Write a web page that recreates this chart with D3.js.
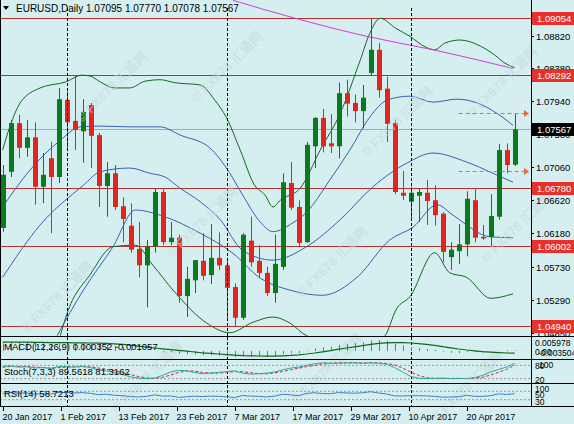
<!DOCTYPE html>
<html>
<head>
<meta charset="utf-8">
<script src="https://cdn.jsdelivr.net/npm/d3@7"></script>
<style>
  body { margin: 0; background: #d5eff1; }
  svg { display: block; font-family: "Liberation Sans", Arial, sans-serif; }
</style>
</head>
<body>
<div id="chart"></div>
<script>
// daily candles, 20 Jan 2017 .. 20 Apr 2017
const opens  = [1.0625,1.0700,1.0765,1.0732,1.0746,1.0680,1.0718,1.0693,1.0796,1.0768,1.0754,1.0789,1.0749,1.0681,1.0698,1.0654,1.0628,1.0597,1.0575,1.0600,1.0673,1.0606,1.0612,1.0534,1.0555,1.0581,1.0562,1.0585,1.0575,1.0546,1.0505,1.0608,1.0581,1.0565,1.0538,1.0573,1.0685,1.0653,1.0606,1.0734,1.0772,1.0738,1.0734,1.0805,1.0792,1.0781,1.0832,1.0863,1.0811,1.0765,1.0672,1.0660,1.0668,1.0672,1.0662,1.0644,1.0586,1.0594,1.0603,1.0662,1.0613,1.0613,1.0640,1.0729,1.07095];
const highs  = [1.0709,1.0769,1.0776,1.0769,1.0766,1.0725,1.0740,1.0812,1.0807,1.0829,1.0797,1.0792,1.0752,1.0713,1.0709,1.0666,1.0658,1.0633,1.0609,1.0678,1.0678,1.0633,1.0616,1.0573,1.0582,1.0618,1.0630,1.0619,1.0582,1.0551,1.0618,1.0640,1.0602,1.0573,1.0616,1.0698,1.0713,1.0662,1.0740,1.0773,1.0784,1.0777,1.0819,1.0823,1.0803,1.0816,1.0905,1.0872,1.0827,1.0769,1.0701,1.0680,1.0678,1.0689,1.0682,1.0646,1.0606,1.0630,1.0674,1.0678,1.0629,1.0670,1.0737,1.0738,1.07770];
const lows   = [1.0620,1.0693,1.0718,1.0720,1.0656,1.0658,1.0618,1.0685,1.0729,1.0729,1.0712,1.0705,1.0653,1.0640,1.0649,1.0606,1.0592,1.0559,1.0519,1.0592,1.0602,1.0602,1.0525,1.0506,1.0538,1.0555,1.0550,1.0569,1.0502,1.0493,1.0502,1.0573,1.0558,1.0534,1.0525,1.0569,1.0649,1.0600,1.0605,1.0705,1.0726,1.0725,1.0718,1.0774,1.0766,1.0758,1.0829,1.0799,1.0740,1.0670,1.0662,1.0636,1.0633,1.0629,1.0628,1.0579,1.0569,1.0577,1.0587,1.0606,1.0609,1.0600,1.0636,1.0698,1.07078];
const closes = [1.0696,1.0765,1.0732,1.0746,1.0680,1.0696,1.0693,1.0797,1.0766,1.0756,1.0780,1.0748,1.0681,1.0698,1.0653,1.0637,1.0596,1.0575,1.0600,1.0673,1.0606,1.0612,1.0534,1.0557,1.0582,1.0561,1.0585,1.0575,1.0545,1.0505,1.0616,1.0579,1.0565,1.0538,1.0577,1.0686,1.0652,1.0605,1.0736,1.0772,1.0734,1.0734,1.0805,1.0791,1.0781,1.0799,1.0863,1.0809,1.0764,1.0673,1.0668,1.0672,1.0673,1.0661,1.0642,1.0593,1.0596,1.0603,1.0664,1.0612,1.0612,1.0641,1.0729,1.0709,1.07567];

// overlay lines: [bar index, price]
const bandUpper = [[0,1.0729],[0.9,1.0760],[2.2,1.0792],[4.7,1.0812],[7.9,1.0820],[9.9,1.0829],[10.9,1.0828],[12.2,1.0820],[14,1.0812],[15.9,1.0812],[17.8,1.0821],[19.7,1.0823],[21.5,1.0819],[24.7,1.0816],[26.5,1.0796],[28,1.0772],[29.7,1.0729],[31.5,1.0682],[32.8,1.0669],[33.8,1.0653],[34.7,1.0662],[37.2,1.0678],[39.7,1.0729],[42.2,1.0778],[44.7,1.0849],[45.9,1.0885],[47.2,1.0905],[49.1,1.0892],[50.9,1.0881],[52.8,1.0867],[54,1.0863],[55.3,1.0872],[57.2,1.0876],[59.7,1.0868],[61.5,1.0856],[62.8,1.0845],[64,1.0839]];
const maTop = [[0,1.0653],[3.4,1.0702],[7.2,1.0742],[9.7,1.0760],[12.2,1.0761],[15.9,1.0760],[19.7,1.0760],[22.2,1.0749],[25.9,1.0732],[28.4,1.0698],[30,1.0669],[32.2,1.0633],[33.8,1.0620],[36.3,1.0632],[38,1.0646],[40.9,1.0689],[43.4,1.0729],[45.9,1.0773],[48.1,1.0796],[50.9,1.0801],[53.8,1.0793],[56.8,1.0797],[59.3,1.0792],[61.8,1.0778],[63.8,1.0762]];
const maMid = [[0,1.0559],[4.7,1.0629],[10.1,1.0682],[12.2,1.0700],[15.9,1.0705],[18.4,1.0698],[20.3,1.0693],[22.2,1.0678],[24.7,1.0660],[27.2,1.0636],[30,1.0595],[33.8,1.0582],[38,1.0600],[42.2,1.0636],[46.3,1.0680],[50.6,1.0712],[53.8,1.0725],[58,1.0713],[61.3,1.0698],[63.8,1.0686]];
const maLow = [[6.8,1.0481],[10.1,1.0542],[13.8,1.0600],[16.6,1.0649],[19.7,1.0642],[24.7,1.0618],[28.8,1.0591],[32.2,1.0558],[35.9,1.0542],[40,1.0535],[44.3,1.0559],[48.4,1.0609],[51.3,1.0626],[54.3,1.0656],[56.3,1.0642],[61,1.0613],[63.8,1.0612]];
const bandLower = [[7.2,1.0481],[8.2,1.0515],[10.9,1.0562],[13.8,1.0600],[16.6,1.0602],[18.8,1.0575],[21.3,1.0542],[25.5,1.0498],[28.4,1.0485],[31.3,1.0499],[33.8,1.0506],[35.9,1.0498],[38,1.0481],[42.8,1.0469],[47.6,1.0479],[49.3,1.0518],[50.9,1.0533],[54,1.0592],[55.9,1.0565],[58,1.0559],[61,1.0531],[63.8,1.0537]];
const maLong = [[28.8,1.0929],[35.9,1.0907],[45.9,1.0880],[53.8,1.0863],[63.8,1.0838]];

const levels = [1.09054, 1.08292, 1.06780, 1.06002, 1.04940];
const lastPrice = 1.07567;
const targets = [1.0779, 1.0701];
const priceTicks = [1.08820, 1.08380, 1.07940, 1.07500, 1.07060, 1.06620, 1.06180, 1.05730, 1.05290, 1.04850];
const separators = [8, 28, 51];
const dateLabels = ["20 Jan 2017","1 Feb 2017","13 Feb 2017","23 Feb 2017","7 Mar 2017","17 Mar 2017","29 Mar 2017","10 Apr 2017","20 Apr 2017"];

// indicators (MACD in thousandths)
const macdHist = [3.8,4.2,4.3,4.4,4.0,3.9,3.6,4.1,4.0,3.9,4.0,3.9,3.3,3.1,2.6,2.0,1.2,0.4,-0.1,0.0,-0.4,-0.6,-1.3,-1.6,-1.8,-2.0,-2.1,-2.3,-2.5,-3.0,-2.6,-2.6,-2.7,-2.9,-2.6,-1.6,-1.1,-1.0,0.2,1.3,1.8,2.1,3.1,3.6,4.0,4.3,5.3,5.4,5.1,3.6,2.7,2.0,1.5,1.0,0.6,-0.4,-0.9,-1.1,-0.6,-0.6,-0.8,-0.6,0.2,0.5,0.35];
const macdSignal = [4.4,4.4,4.4,4.4,4.3,4.3,4.2,4.2,4.2,4.1,4.1,4.0,3.9,3.8,3.6,3.3,2.9,2.4,1.9,1.5,1.1,0.7,0.3,-0.1,-0.5,-0.9,-1.2,-1.5,-1.8,-2.1,-2.3,-2.4,-2.5,-2.6,-2.6,-2.4,-2.2,-1.9,-1.5,-1.0,-0.4,0.2,0.9,1.5,2.1,2.7,3.3,3.8,4.1,4.2,4.2,4.0,3.7,3.3,2.8,2.2,1.6,1.0,0.5,0.1,-0.3,-0.6,-0.8,-1.0,-1.057];
const stochMain = [75,78,72,74,68,70,66,75,74,72,76,70,60,55,48,38,28,22,20,22,35,50,58,55,48,42,45,48,52,55,45,40,42,45,50,60,68,72,80,88,92,90,90,92,92,90,92,90,85,70,50,30,22,20,21,22,20,21,20,24,35,50,62,72,89.56];
const stochSignal = [72,75,75,75,72,70,68,70,72,74,74,73,68,62,55,47,38,29,23,21,26,36,48,55,54,48,45,45,48,52,51,47,42,42,46,52,60,67,74,80,87,90,91,91,91,91,91,91,89,82,68,50,34,24,21,21,21,21,20,22,26,36,49,62,81.32];
const rsi = [60,64,61,62,57,58,57,66,63,62,64,60,54,56,51,49,45,43,46,53,47,48,41,44,47,45,47,46,44,40,50,47,46,43,47,56,53,49,60,63,59,59,64,62,61,63,68,62,57,48,48,49,49,48,46,42,43,44,51,46,46,49,58,55,58.72];

const W = 574, H = 424;
const axisX = 531;
const main = { top: 0, bottom: 336 };
const panels = {
  macd:  { top: 337, bottom: 359 },
  stoch: { top: 361, bottom: 383 },
  rsi:   { top: 385, bottom: 406 }
};

const svg = d3.select("#chart").append("svg")
  .attr("width", W).attr("height", H);

svg.append("rect").attr("width", W).attr("height", H).attr("fill", "#d5eff1");

const x = d3.scaleLinear().domain([0, 64]).range([2.6, 514.6]);
const y = d3.scaleLinear().domain([1.04940, 1.09054]).range([326, 18]);

svg.append("clipPath").attr("id", "clipMain")
  .append("rect").attr("x", 0).attr("y", main.top).attr("width", axisX).attr("height", main.bottom - main.top);

const g = svg.append("g").attr("clip-path", "url(#clipMain)");

// month separators
[main, panels.macd, panels.stoch, panels.rsi].forEach(p => {
  svg.selectAll(null).data(separators).enter().append("line")
    .attr("x1", d => Math.round(x(d)) + 0.5).attr("x2", d => Math.round(x(d)) + 0.5)
    .attr("y1", p.top + 8 * (p === main)).attr("y2", p.bottom)
    .attr("stroke", "#000").attr("stroke-dasharray", "3,2").attr("stroke-width", 1);
});

// watermarks
const marks = [[115, 90], [230, 70], [205, 225], [335, 265], [400, 125], [505, 85], [520, 230], [60, 300], [150, 380], [330, 372], [470, 390]];
svg.selectAll(".wm").data(marks).enter().append("text")
  .attr("class", "wm")
  .attr("transform", d => `translate(${d[0]},${d[1]}) rotate(-45)`)
  .attr("text-anchor", "middle")
  .attr("font-size", 13).attr("font-weight", "bold")
  .attr("fill", "#c4d8da").attr("opacity", 0.55)
  .text("© FX678 汇通网");

// key levels
g.selectAll(".lvl").data(levels).enter().append("line")
  .attr("x1", 0).attr("x2", axisX)
  .attr("y1", d => Math.round(y(d)) + 0.5).attr("y2", d => Math.round(y(d)) + 0.5)
  .attr("stroke", "#b3322c").attr("stroke-width", 1.2);

g.append("line").attr("x1", 0).attr("x2", axisX)
  .attr("y1", Math.round(y(lastPrice)) + 0.5).attr("y2", Math.round(y(lastPrice)) + 0.5)
  .attr("stroke", "#a8a8a8");

// overlay lines
const line = d3.line().x(d => x(d[0])).y(d => y(d[1])).curve(d3.curveMonotoneX);
const overlays = [
  [bandUpper, "#0f6a1d"], [bandLower, "#0f6a1d"],
  [maTop, "#3a5fb0"], [maMid, "#3a5fb0"], [maLow, "#3a5fb0"],
  [maLong, "#d040d0"]
];
overlays.forEach(([data, color]) => {
  g.append("path").datum(data).attr("d", line)
    .attr("fill", "none").attr("stroke", color).attr("stroke-width", 1);
});

// candles
const candles = opens.map((o, i) => ({ i, o, h: highs[i], l: lows[i], c: closes[i] }));
const cg = g.selectAll(".candle").data(candles).enter().append("g");
cg.append("line")
  .attr("x1", d => Math.round(x(d.i)) + 0.5).attr("x2", d => Math.round(x(d.i)) + 0.5)
  .attr("y1", d => y(d.h)).attr("y2", d => y(d.l))
  .attr("stroke", d => d.c >= d.o ? "#0b7a1e" : "#e2231e");
cg.append("rect")
  .attr("x", d => Math.round(x(d.i)) - 2).attr("width", 5)
  .attr("y", d => y(Math.max(d.o, d.c)))
  .attr("height", d => Math.max(1.5, Math.abs(y(d.o) - y(d.c))))
  .attr("fill", d => d.c >= d.o ? "#0b7a1e" : "#e2231e");

// target arrows
targets.forEach(t => {
  const yy = Math.round(y(t)) + 0.5;
  svg.append("line").attr("x1", x(57)).attr("x2", 524).attr("y1", yy).attr("y2", yy)
    .attr("stroke", "#e0703a").attr("stroke-dasharray", "4,3").attr("stroke-width", 1.2);
  svg.append("path").attr("d", `M524,${yy - 3.5}L529,${yy}L524,${yy + 3.5}Z`).attr("fill", "#e0703a");
});

// title
svg.append("path").attr("d", "M3,6L9,6L6,10Z").attr("fill", "#000");
svg.append("text").attr("x", 16).attr("y", 12).attr("font-size", 10).attr("fill", "#000")
  .text("EURUSD,Daily  1.07095 1.07770 1.07078 1.07567");

// price axis
svg.selectAll(".pt").data(priceTicks).enter().append("text")
  .attr("x", 536).attr("y", d => y(d) + 4).attr("font-size", 9.5).attr("fill", "#000")
  .text(d => d.toFixed(5));
svg.selectAll(".ptk").data(priceTicks).enter().append("line")
  .attr("x1", axisX).attr("x2", axisX + 3).attr("y1", d => Math.round(y(d)) + 0.5).attr("y2", d => Math.round(y(d)) + 0.5)
  .attr("stroke", "#000");

const tags = levels.map(v => ({ v, bg: "#e8302c", fg: "#fff" }))
  .concat([{ v: lastPrice, bg: "#000", fg: "#fff" }]);
const tg = svg.selectAll(".tag").data(tags).enter().append("g")
  .attr("transform", d => `translate(${axisX + 1},${Math.round(y(d.v)) - 6})`);
tg.append("rect").attr("width", W - axisX - 1).attr("height", 13).attr("fill", d => d.bg);
tg.append("text").attr("x", 5).attr("y", 10).attr("font-size", 9.5).attr("fill", d => d.fg).text(d => d.v.toFixed(5));

// MACD panel
const ym = d3.scaleLinear().domain([-3.5, 6.0]).range([panels.macd.bottom - 1, panels.macd.top + 2]);
svg.selectAll(".mh").data(macdHist).enter().append("line")
  .attr("x1", (d, i) => Math.round(x(i)) + 0.5).attr("x2", (d, i) => Math.round(x(i)) + 0.5)
  .attr("y1", ym(0)).attr("y2", d => ym(d))
  .attr("stroke", "#7a6c96").attr("stroke-width", 1);
svg.append("path").datum(macdSignal)
  .attr("d", d3.line().x((d, i) => x(i)).y(d => ym(d)))
  .attr("fill", "none").attr("stroke", "#0f6a1d").attr("stroke-width", 1.2);
svg.append("text").attr("x", 4).attr("y", 350).attr("font-size", 9.5).text("MACD(12,26,9) 0.000352 -0.001057");
svg.append("text").attr("x", 535).attr("y", 346).attr("font-size", 8.5).text("0.005978");
svg.append("text").attr("x", 535).attr("y", 355).attr("font-size", 8.5).text("0.00");
svg.append("text").attr("x", 538).attr("y", 356).attr("font-size", 8.5).text("-0.003504");

// Stochastic panel
const ys = d3.scaleLinear().domain([0, 100]).range([panels.stoch.bottom, panels.stoch.top]);
[20, 80].forEach(v => {
  svg.append("line").attr("x1", 0).attr("x2", axisX).attr("y1", ys(v)).attr("y2", ys(v))
    .attr("stroke", "#999").attr("stroke-dasharray", "2,2");
});
svg.append("path").datum(stochSignal)
  .attr("d", d3.line().x((d, i) => x(i)).y(d => ys(d)))
  .attr("fill", "none").attr("stroke", "#e02020").attr("stroke-dasharray", "3,2");
svg.append("path").datum(stochMain)
  .attr("d", d3.line().x((d, i) => x(i)).y(d => ys(d)))
  .attr("fill", "none").attr("stroke", "#2aa8a0");
svg.append("text").attr("x", 4).attr("y", 375).attr("font-size", 9.5).text("Stoch(7,3,3) 89.5618 81.3162");
svg.append("text").attr("x", 535).attr("y", ys(80) + 4).attr("font-size", 8.5).text("80");
svg.append("text").attr("x", 539).attr("y", ys(88) + 4).attr("font-size", 8.5).text("100");
svg.append("text").attr("x", 535).attr("y", ys(20) + 4).attr("font-size", 8.5).text("20");

// RSI panel
const yr = d3.scaleLinear().domain([0, 100]).range([panels.rsi.bottom, panels.rsi.top]);
[30, 70].forEach(v => {
  svg.append("line").attr("x1", 0).attr("x2", axisX).attr("y1", yr(v)).attr("y2", yr(v))
    .attr("stroke", "#999").attr("stroke-dasharray", "2,2");
});
svg.append("path").datum(rsi)
  .attr("d", d3.line().x((d, i) => x(i)).y(d => yr(d)))
  .attr("fill", "none").attr("stroke", "#3a7fd0");
svg.append("text").attr("x", 4).attr("y", 397).attr("font-size", 9.5).text("RSI(14) 58.7213");
svg.append("text").attr("x", 535).attr("y", yr(85) + 4).attr("font-size", 8.5).text("100");
svg.append("text").attr("x", 535).attr("y", yr(55) + 4).attr("font-size", 8.5).text("50");
svg.append("text").attr("x", 535).attr("y", yr(25) + 4).attr("font-size", 8.5).text("30");

// frames
[main, panels.macd, panels.stoch, panels.rsi].forEach(p => {
  svg.append("line").attr("x1", 0).attr("x2", W).attr("y1", p.bottom + 0.5).attr("y2", p.bottom + 0.5).attr("stroke", "#000");
});
svg.append("line").attr("x1", axisX + 0.5).attr("x2", axisX + 0.5).attr("y1", 0).attr("y2", 407).attr("stroke", "#000");
svg.append("line").attr("x1", 0.5).attr("x2", 0.5).attr("y1", 0).attr("y2", 407).attr("stroke", "#000");

// date axis
const xd = d3.scaleLinear().domain([0, dateLabels.length - 1]).range([x(0), x(58)]);
svg.selectAll(".dl").data(dateLabels).enter().append("text")
  .attr("x", (d, i) => xd(i)).attr("y", 420).attr("font-size", 9).text(d => d);
svg.selectAll(".dt").data(dateLabels).enter().append("line")
  .attr("x1", (d, i) => Math.round(xd(i)) + 0.5).attr("x2", (d, i) => Math.round(xd(i)) + 0.5)
  .attr("y1", 407).attr("y2", 411).attr("stroke", "#000");
</script>
</body>
</html>
